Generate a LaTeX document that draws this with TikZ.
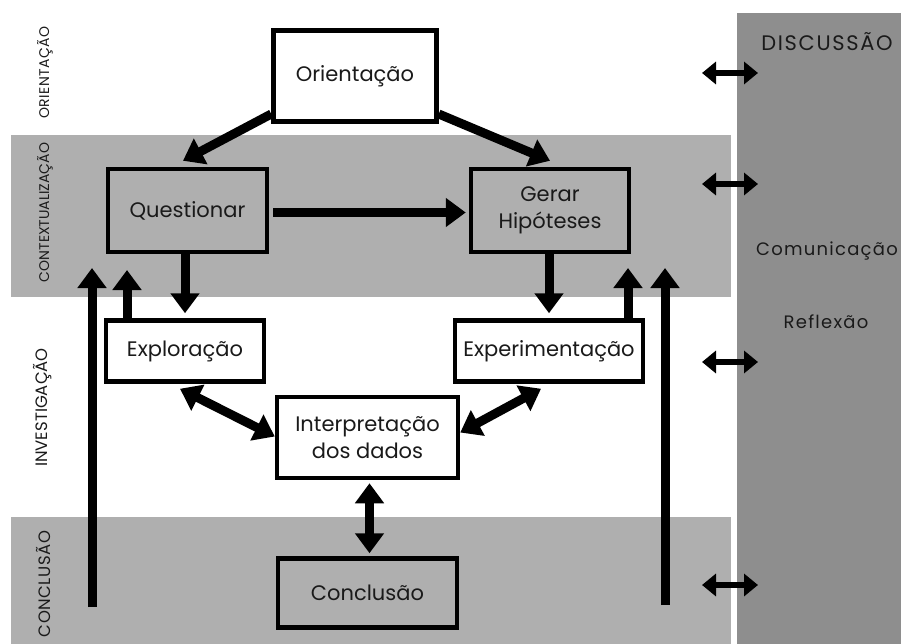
\documentclass[tikz,border=0pt]{standalone}
\usepackage{fontspec}
\setmainfont{Poppins}
\newfontfamily\headfont[LetterSpace=8]{Poppins}
\newfontfamily\spacedfont[LetterSpace=7]{Poppins}
\newfontfamily\lightspaced[LetterSpace=3]{Poppins}
\usetikzlibrary{arrows.meta,calc}
\definecolor{bandgray}{HTML}{AFAFAF}
\definecolor{colgray}{HTML}{8E8E8E}
\definecolor{txt}{HTML}{1A1A1A}
\begin{document}
\begin{tikzpicture}[x=1pt,y=-1pt,
  box/.style={draw=black,line width=4.5pt,inner sep=0pt,align=center,text=txt,
    font=\fontsize{21}{27}\selectfont},
  whitebox/.style={box,fill=white},
  graybox/.style={box,fill=bandgray},
  big/.style={line width=9pt,-{Triangle[length=20pt,width=28pt]}},
  dbl/.style={line width=9pt,{Triangle[length=20pt,width=28pt]}-{Triangle[length=20pt,width=28pt]}},
  side/.style={line width=6pt,{Triangle[length=14pt,width=22pt]}-{Triangle[length=14pt,width=22pt]}},
  vlab/.style={rotate=90,text=txt,inner sep=0pt},
]
\useasboundingbox (0,0) rectangle (901,644);
\fill[white] (0,0) rectangle (901,644);
% bands
\fill[bandgray] (11,135) rectangle (731,297);
\fill[bandgray] (11,517) rectangle (731,644);
\fill[colgray] (737,13) rectangle (901,644);

% boxes
\node[whitebox,minimum width=163pt,minimum height=91pt] (ori) at (355,76) {Orientação};
\node[graybox,minimum width=159pt,minimum height=83pt] (que) at (187.5,210.5) {Questionar};
\node[graybox,minimum width=158pt,minimum height=83pt] (ger) at (550,210.5) {Gerar\\Hipóteses};
\node[whitebox,minimum width=158pt,minimum height=61pt] (exp) at (185,351) {Exploração};
\node[whitebox,minimum width=188pt,minimum height=61pt] (expm) at (549,351) {Experimentação};
\node[whitebox,minimum width=181pt,minimum height=81pt] (int) at (367.5,437.5) {Interpretação\\dos dados};
\node[graybox,minimum width=179pt,minimum height=69pt] (con) at (367.5,593) {Conclusão};

% labels
\node[vlab,font=\lightspaced\fontsize{14}{16}\selectfont] (l1) at (45,72.5) {ORIENTAÇÃO};
\node[vlab,font=\fontsize{14}{16}\selectfont] (l2) at (45,212.5) {CONTEXTUALIZAÇÃO};
\node[vlab,font=\fontsize{16.5}{18}\selectfont] (l3) at (43,407.5) {INVESTIGAÇÃO};
\node[vlab,font=\lightspaced\fontsize{16.5}{18}\selectfont] (l4) at (43,584) {CONCLUSÃO};
\node[text=txt,font=\headfont\fontsize{21}{24}\selectfont] (dis) at (827,42) {DISCUSSÃO};
\node[text=txt,font=\spacedfont\fontsize{18}{21}\selectfont] (com) at (827,251) {Comunicação};
\node[text=txt,font=\spacedfont\fontsize{18}{21}\selectfont] (ref) at (826,322) {Reflexão};

% coordinates
\coordinate (ul) at (127,270);
\coordinate (ur) at (628,268);
\coordinate (lb) at (92,607);
\coordinate (lt) at (92,268);
\coordinate (rb) at (665,605);
\coordinate (rt) at (665,268);

% arrows
\draw[big] ($(ori.west)+(0,38)$) -- ($(que.north)+(-4.5,-6)$);
\draw[big] ($(ori.east)+(0,38)$) -- ($(ger.north)+(0,-6)$);
\draw[big] ($(que.east)+(4,2)$) -- ($(ger.west)+(-3,2)$);
\draw[big] (exp.north |- que.south) -- ($(exp.north)+(0,-5)$);
\draw[big] (expm.north |- ger.south) -- ($(expm.north)+(0,-5)$);
\draw[big] (exp.north -| ul) -- (ul);
\draw[big] (expm.north -| ur) -- (ur);
\draw[big] (lb) -- (lt);
\draw[big] (rb) -- (rt);
\draw[dbl] ($(exp.south)+(-5,5)$) -- ($(int.west)+(0,-1)$);
\draw[dbl] ($(expm.south)+(-8,5)$) -- ($(int.east)+(0,-5)$);
\draw[dbl] ($(int.south)+(2,3)$) -- ($(con.north)+(2,-3)$);

% side arrows to Discussão
\foreach \i/\yy in {1/73,2/184,3/362,4/585}{
  \coordinate (sa\i) at (702,\yy);
  \coordinate (sb\i) at (758,\yy);
  \draw[side] (sa\i) -- (sb\i);
}
\end{tikzpicture}
\end{document}
